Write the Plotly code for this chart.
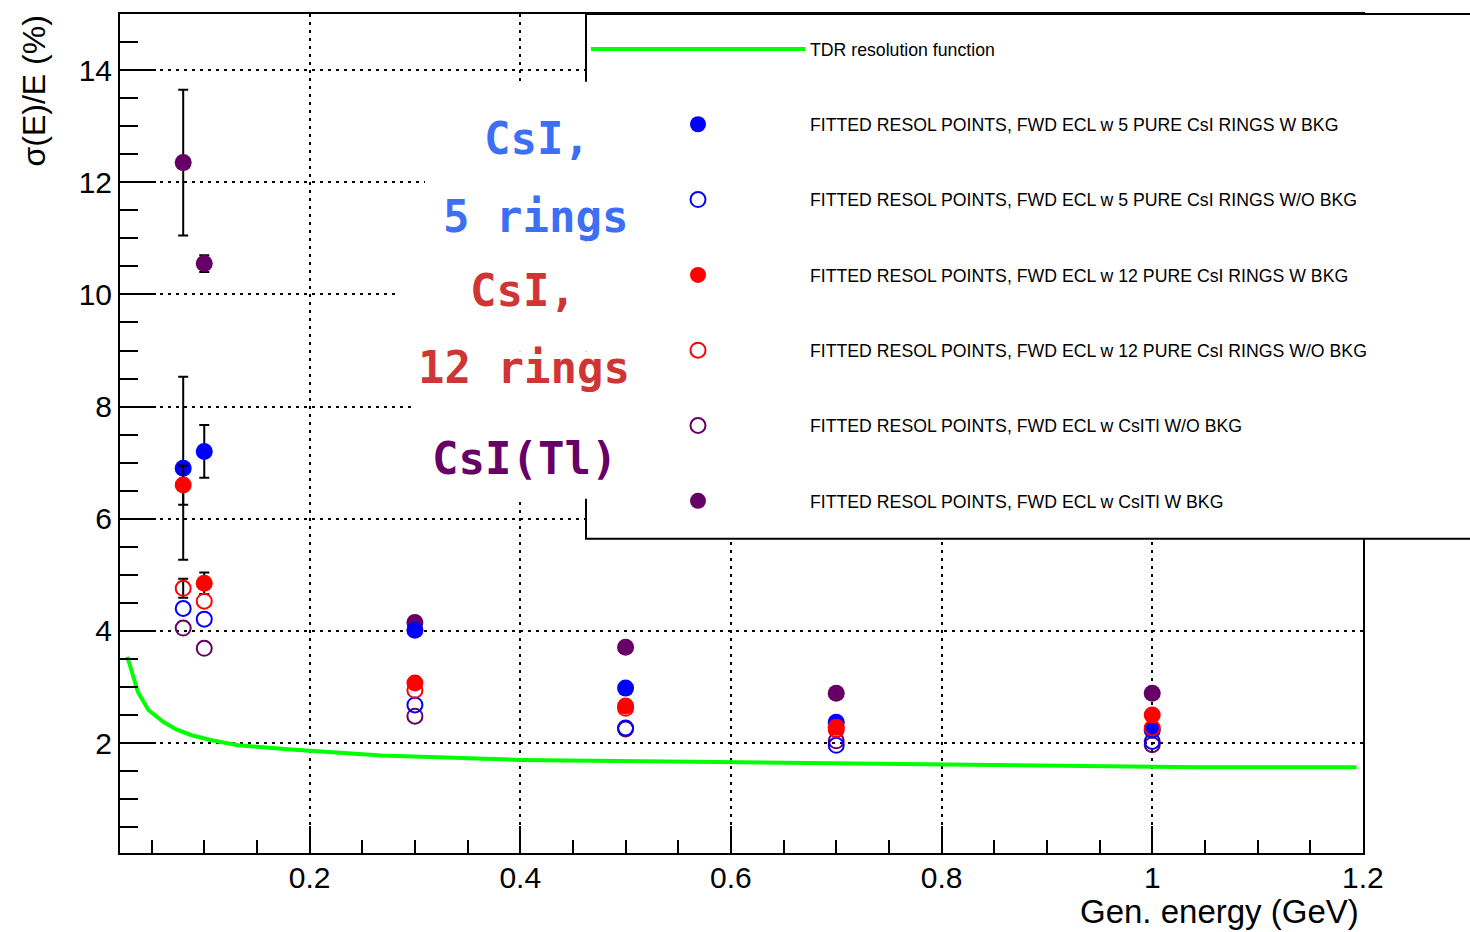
import plotly.graph_objects as go

# ---------------- data ----------------
energy = [0.08, 0.1, 0.3, 0.5, 0.7, 1.0]

csi5_bkg = [6.90, 7.20, 4.01, 2.98, 2.37, 2.23]
csi5_bkg_err = [1.63, 0.47]
csi5_nobkg = [4.40, 4.21, 2.68, 2.27, 1.96, 2.03]
csi12_bkg = [6.60, 4.85, 3.07, 2.66, 2.28, 2.50]
csi12_bkg_err = [0.35, 0.19]
csi12_nobkg = [4.76, 4.53, 2.94, 2.62, 2.24, 2.27]
csi12_nobkg_err = [0.17]
csitl_nobkg = [4.05, 3.69, 2.48, 2.25, 2.04, 1.97]
csitl_bkg = [12.35, 10.55, 4.15, 3.71, 2.89, 2.89]
csitl_bkg_err = [1.30, 0.15]

tdr_energy = [0.027, 0.037, 0.047, 0.061, 0.074, 0.088, 0.107, 0.132, 0.179, 0.200,
              0.253, 0.268, 0.400, 0.552, 0.647, 0.800, 1.000, 1.045, 1.194]
tdr_resol = [3.54, 2.91, 2.59, 2.38, 2.24, 2.14, 2.05, 1.96, 1.89, 1.86,
             1.79, 1.78, 1.70, 1.67, 1.64, 1.61, 1.58, 1.57, 1.57]

x_ticks = [0.2, 0.4, 0.6, 0.8, 1.0, 1.2]
x_ticklabels = ["0.2", "0.4", "0.6", "0.8", "1", "1.2"]
y_ticks = [2, 4, 6, 8, 10, 12, 14]
y_ticklabels = ["2", "4", "6", "8", "10", "12", "14"]

names = {
    "tdr": "TDR resolution function",
    "c5b": "FITTED RESOL POINTS, FWD ECL w 5 PURE CsI RINGS W BKG",
    "c5n": "FITTED RESOL POINTS, FWD ECL w 5 PURE CsI RINGS W/O BKG",
    "c12b": "FITTED RESOL POINTS, FWD ECL w 12 PURE CsI RINGS W BKG",
    "c12n": "FITTED RESOL POINTS, FWD ECL w 12 PURE CsI RINGS W/O BKG",
    "tln": "FITTED RESOL POINTS, FWD ECL w CsITl W/O BKG",
    "tlb": "FITTED RESOL POINTS, FWD ECL w CsITl W BKG",
}

BLUE = "#0000ff"
RED = "#ff0000"
PURPLE = "#660066"
GREEN = "#00ff00"

# ---------------- geometry helpers (pixels -> paper) ----------------
W, H = 1470, 932
ML, MR, MT, MB = 120, 107, 12, 79
PW, PH = W - ML - MR, H - MT - MB


def px(xp):
    return (xp - ML) / PW


def py(yp):
    return (H - MB - yp) / PH


fig = go.Figure()

fig.add_trace(go.Scatter(
    x=tdr_energy, y=tdr_resol, mode="lines", name=names["tdr"],
    line=dict(color=GREEN, width=4), legendgroup="g1", legendrank=1))


def err(arr):
    return dict(type="data", array=arr, symmetric=True, color="black",
                thickness=2, width=5, visible=True)


def pts(y, name, rank, color, filled, errs=None):
    if filled:
        marker = dict(symbol="circle", size=17, color=color, line=dict(width=0))
    else:
        marker = dict(symbol="circle-open", size=15, color=color, line=dict(width=2, color=color))
    return go.Scatter(x=energy, y=y, mode="markers", name=name, marker=marker,
                      error_y=err(errs) if errs else None,
                      legendgroup="g%d" % rank, legendrank=rank)


# drawing order (bottom to top)
fig.add_trace(pts(csitl_bkg, names["tlb"], 7, PURPLE, True, csitl_bkg_err))
fig.add_trace(pts(csitl_nobkg, names["tln"], 6, PURPLE, False))
fig.add_trace(pts(csi5_bkg, names["c5b"], 2, BLUE, True, csi5_bkg_err))
fig.add_trace(pts(csi5_nobkg, names["c5n"], 3, BLUE, False))
fig.add_trace(pts(csi12_bkg, names["c12b"], 4, RED, True, csi12_bkg_err))
fig.add_trace(pts(csi12_nobkg, names["c12n"], 5, RED, False, csi12_nobkg_err))

FONT = "Liberation Sans, Arial, Helvetica, sans-serif"

axis_common = dict(
    showline=True, linecolor="black", linewidth=2, mirror=True,
    ticks="inside", tickcolor="black", tickwidth=2,
    showgrid=True, gridcolor="black", gridwidth=2, griddash="3px,5px",
    zeroline=False,
    tickfont=dict(family=FONT, size=30, color="black"),
)

fig.update_xaxes(
    range=[0.02, 1.2001], tickmode="array", tickvals=x_ticks, ticktext=x_ticklabels,
    ticklen=27, ticklabelstandoff=-3,
    minor=dict(ticks="inside", dtick=0.05, tick0=0, ticklen=13,
               tickcolor="black", tickwidth=2, showgrid=False),
    **axis_common)
fig.update_yaxes(
    range=[0.04, 15.0], tickmode="array", tickvals=y_ticks, ticktext=y_ticklabels,
    ticklen=36, minor=dict(ticks="inside", dtick=0.5, tick0=0, ticklen=18,
                           tickcolor="black", tickwidth=2, showgrid=False),
    **axis_common)

shapes = []
# legend box
shapes.append(dict(type="rect", xref="paper", yref="paper",
                   x0=px(586), x1=px(1600), y0=py(538), y1=py(12),
                   fillcolor="white", line=dict(width=2, color="black"), layer="above"))
# white background of the pasted handwritten labels (hides grid lines and legend border)
for (x0, x1, y0, y1) in [(425, 645, 80, 240), (400, 645, 240, 350), (413, 645, 350, 498)]:
    shapes.append(dict(type="rect", xref="paper", yref="paper",
                       x0=px(x0), x1=px(x1), y0=py(y1), y1=py(y0),
                       fillcolor="white", line=dict(width=0), layer="above"))

HAND = "DejaVu Sans Mono"
annotations = [
    dict(text="CsI,", x=px(537), y=py(137), color="#3d6ff5"),
    dict(text="5 rings", x=px(535), y=py(215), color="#3d6ff5"),
    dict(text="CsI,", x=px(523), y=py(289), color="#d03535"),
    dict(text="12 rings", x=px(524), y=py(366), color="#d03535"),
    dict(text="CsI(Tl)", x=px(524), y=py(458), color=PURPLE),
]
ann = []
for a in annotations:
    ann.append(dict(text=a["text"], x=a["x"], y=a["y"], xref="paper", yref="paper",
                    xanchor="center", yanchor="middle", showarrow=False,
                    font=dict(family=HAND, size=44, color=a["color"], weight="bold")))

# axis titles (ROOT style: aligned at the ends)
ann.append(dict(text="Gen. energy (GeV)", x=px(1361), y=py(912), xref="paper", yref="paper",
                xanchor="right", yanchor="middle", showarrow=False,
                font=dict(family=FONT, size=33, color="black")))
ann.append(dict(text="σ(E)/E (%)", x=px(33), y=py(12), xref="paper", yref="paper",
                xanchor="center", yanchor="top", showarrow=False, textangle=-90,
                font=dict(family=FONT, size=32, color="black")))

fig.update_layout(
    width=W, height=H,
    margin=dict(l=ML, r=MR, t=MT, b=MB, pad=0),
    plot_bgcolor="white", paper_bgcolor="white",
    shapes=shapes, annotations=ann,
    showlegend=True,
    legend=dict(x=px(586), y=py(29), xanchor="left", yanchor="top",
                bgcolor="rgba(0,0,0,0)", borderwidth=0,
                font=dict(family=FONT, size=17.7, color="black"),
                itemwidth=214, tracegroupgap=49.3, traceorder="grouped"),
)

fig.write_html("out.html")
